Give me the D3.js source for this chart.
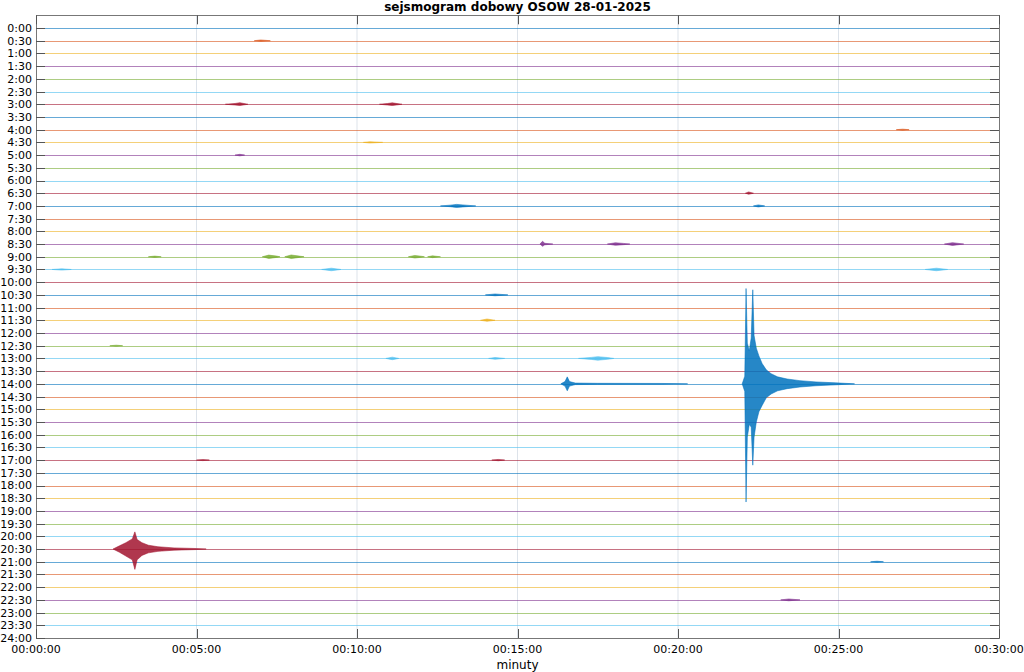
<!DOCTYPE html>
<html><head><meta charset="utf-8">
<script src="https://cdn.jsdelivr.net/npm/d3@7"></script>
<style>body{margin:0;background:#fff;}svg{display:block;font-family:"DejaVu Sans",sans-serif;}</style>
</head><body>
<svg id="c" width="1024" height="672"></svg>
<script>
const title = "sejsmogram dobowy OSOW 28-01-2025";
const xLabel = "minuty";
const rowLabels = ["0:00","0:30","1:00","1:30","2:00","2:30","3:00","3:30","4:00","4:30","5:00","5:30","6:00","6:30","7:00","7:30","8:00","8:30","9:00","9:30","10:00","10:30","11:00","11:30","12:00","12:30","13:00","13:30","14:00","14:30","15:00","15:30","16:00","16:30","17:00","17:30","18:00","18:30","19:00","19:30","20:00","20:30","21:00","21:30","22:00","22:30","23:00","23:30","24:00"];
const xTicks = [0,5,10,15,20,25,30];
const xTickLabels = ["00:00:00","00:05:00","00:10:00","00:15:00","00:20:00","00:25:00","00:30:00"];
const traceColors = ["#0072BD","#D95319","#EDB120","#7E2F8E","#77AC30","#4DBEEE","#A2142F"];
// events: row index, envelope points [minute, amplitude up, amplitude down] in row units
const eventRows = [1,6,6,8,9,10,13,14,14,17,17,17,18,18,18,18,18,19,19,19,21,23,25,26,26,26,28,28,34,34,41,42,45];
const eventEnvelopes = [
 [[6.8,0,0],[7.0,0.06,0.05],[7.3,0,0]],
 [[5.9,0,0],[6.2,0.06,0.06],[6.35,0.12,0.1],[6.6,0,0]],
 [[10.7,0,0],[10.95,0.06,0.06],[11.1,0.11,0.1],[11.4,0,0]],
 [[26.8,0,0],[27.0,0.04,0.04],[27.2,0,0]],
 [[10.2,0,0],[10.4,0.05,0.05],[10.8,0,0]],
 [[6.2,0,0],[6.35,0.06,0.06],[6.5,0,0]],
 [[22.1,0,0],[22.2,0.1,0.08],[22.35,0,0]],
 [[12.6,0,0],[12.9,0.06,0.06],[13.1,0.12,0.12],[13.4,0.06,0.06],[13.7,0,0]],
 [[22.35,0,0],[22.5,0.08,0.08],[22.7,0,0]],
 [[15.7,0,0],[15.78,0.22,0.18],[15.85,0.06,0.06],[16.1,0,0]],
 [[17.8,0,0],[18.05,0.1,0.1],[18.3,0.05,0.05],[18.5,0,0]],
 [[28.3,0,0],[28.55,0.11,0.11],[28.9,0,0]],
 [[7.05,0,0],[7.25,0.13,0.13],[7.5,0.05,0.05],[7.6,0,0]],
 [[7.75,0,0],[7.95,0.14,0.14],[8.2,0.05,0.05],[8.35,0,0]],
 [[11.6,0,0],[11.8,0.1,0.1],[12.0,0.04,0.04],[12.1,0,0]],
 [[12.2,0,0],[12.35,0.07,0.07],[12.6,0,0]],
 [[3.5,0,0],[3.7,0.05,0.05],[3.9,0,0]],
 [[0.5,0,0],[0.8,0.05,0.05],[1.1,0,0]],
 [[8.9,0,0],[9.2,0.1,0.1],[9.5,0,0]],
 [[27.7,0,0],[28.05,0.1,0.1],[28.4,0,0]],
 [[14.0,0,0],[14.3,0.07,0.07],[14.7,0,0]],
 [[13.85,0,0],[14.05,0.1,0.08],[14.3,0,0]],
 [[2.3,0,0],[2.5,0.04,0.04],[2.7,0,0]],
 [[10.9,0,0],[11.1,0.1,0.1],[11.3,0,0]],
 [[14.1,0,0],[14.3,0.07,0.07],[14.6,0,0]],
 [[16.9,0,0],[17.3,0.08,0.08],[17.5,0.14,0.14],[17.8,0.07,0.07],[18.0,0,0]],
 [[16.35,0,0],[16.48,0.18,0.18],[16.55,0.55,0.55],[16.62,0.18,0.18],[16.8,0.06,0.06],[17.5,0.04,0.04],[19.5,0.03,0.03],[20.3,0,0]],
 [[22.0,0,0],[22.08,0.6,0.6],[22.12,7.5,9.3],[22.16,3.2,4.2],[22.22,2.6,3.2],[22.28,3.6,3.4],[22.33,7.4,6.4],[22.37,3.8,4.2],[22.44,2.8,3.0],[22.52,2.2,2.2],[22.62,1.6,1.7],[22.75,1.1,1.1],[22.9,0.8,0.8],[23.1,0.55,0.55],[23.4,0.38,0.38],[23.8,0.25,0.25],[24.3,0.15,0.15],[24.9,0.08,0.08],[25.5,0,0]],
 [[14.2,0,0],[14.4,0.05,0.05],[14.6,0,0]],
 [[5.0,0,0],[5.2,0.04,0.04],[5.4,0,0]],
 [[2.4,0,0],[2.6,0.25,0.25],[2.8,0.5,0.55],[3.0,0.8,0.85],[3.08,1.35,1.6],[3.15,0.75,0.85],[3.3,0.5,0.5],[3.5,0.3,0.3],[3.8,0.18,0.18],[4.3,0.09,0.09],[5.0,0.04,0.04],[5.3,0,0]],
 [[26.0,0,0],[26.2,0.04,0.04],[26.4,0,0]],
 [[23.2,0,0],[23.45,0.07,0.07],[23.8,0,0]]
];

const svg = d3.select("#c");
const L = 36, R = 999, T = 15.3, B = 638;
const x = d3.scaleLinear().domain([0,30]).range([L,R]);
const y = d3.scaleLinear().domain([-1,48]).range([T,B]);
const rowH = y(1) - y(0);
const nRows = rowLabels.length - 1;

// vertical grid
svg.append("g").selectAll("line").data(xTicks.slice(1,-1)).join("line")
  .attr("x1",d=>x(d)).attr("x2",d=>x(d)).attr("y1",T).attr("y2",B)
  .attr("stroke","#dde3ea").attr("stroke-width",1);

// baselines
svg.append("g").selectAll("line").data(d3.range(nRows)).join("line")
  .attr("x1",L).attr("x2",R).attr("y1",d=>Math.round(y(d))+0.5).attr("y2",d=>Math.round(y(d))+0.5)
  .attr("stroke",d=>traceColors[d%7]).attr("stroke-width",1).attr("stroke-opacity",0.6);

// events
const area = d3.area().x(p=>x(p[0]));
svg.append("g").selectAll("path").data(eventEnvelopes).join("path")
  .attr("d",(env,i)=>{
    const r = eventRows[i];
    return area.y0(p=>y(r)+p[2]*rowH).y1(p=>y(r)-p[1]*rowH)(env);
  })
  .attr("fill",(env,i)=>traceColors[eventRows[i]%7])
  .attr("stroke",(env,i)=>traceColors[eventRows[i]%7])
  .attr("stroke-width",0.6).attr("fill-opacity",0.85).attr("stroke-opacity",0.9);

// frame
svg.append("rect").attr("x",L+0.5).attr("y",Math.round(T)+0.5).attr("width",R-L).attr("height",B-Math.round(T))
  .attr("fill","none").attr("stroke","#777").attr("stroke-width",1);

// x axis ticks (inward, top and bottom)
const tk = svg.append("g").attr("stroke","#555");
xTicks.forEach(t=>{
  const xx = Math.round(x(t))+0.5;
  tk.append("line").attr("x1",xx).attr("x2",xx).attr("y1",B).attr("y2",B-9);
  tk.append("line").attr("x1",xx).attr("x2",xx).attr("y1",T).attr("y2",T+9);
});
// y ticks (inward, left and right)
d3.range(rowLabels.length).forEach(r=>{
  const yy = Math.round(y(r))+0.5;
  tk.append("line").attr("x1",L).attr("x2",L+9).attr("y1",yy).attr("y2",yy);
  tk.append("line").attr("x1",R-9).attr("x2",R).attr("y1",yy).attr("y2",yy);
});

// labels
svg.append("g").selectAll("text").data(rowLabels).join("text")
  .attr("x",L-4).attr("y",(d,i)=>y(i)).attr("dy","0.36em")
  .attr("text-anchor","end").attr("font-size",11).attr("fill","#000").text(d=>d);
svg.append("g").selectAll("text").data(xTicks).join("text")
  .attr("x",d=>x(d)).attr("y",B+15).attr("text-anchor","middle")
  .attr("font-size",11).attr("fill","#000").text((d,i)=>xTickLabels[i]);
svg.append("text").attr("x",(L+R)/2).attr("y",B+31).attr("text-anchor","middle")
  .attr("font-size",12).attr("fill","#000").text(xLabel);
svg.append("text").attr("x",(L+R)/2).attr("y",11).attr("text-anchor","middle")
  .attr("font-size",12).attr("font-weight","bold").attr("fill","#000").text(title);
</script>
</body></html>
